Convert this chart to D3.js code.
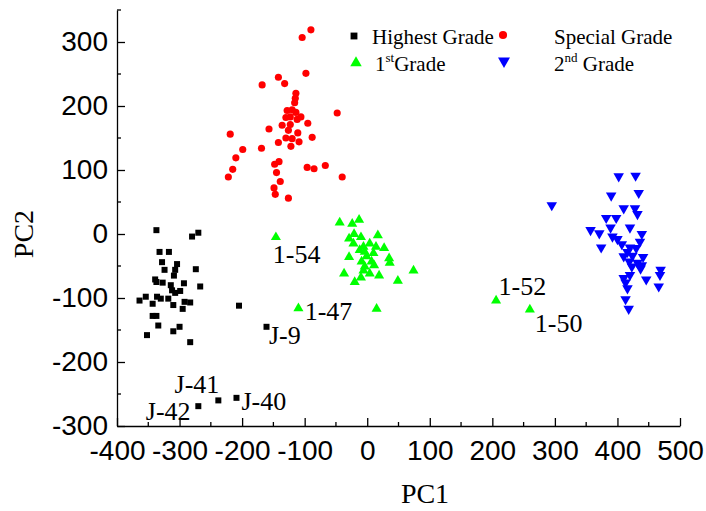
<!DOCTYPE html>
<html><head><meta charset="utf-8">
<script src="https://cdn.jsdelivr.net/npm/d3@7"></script>
<style>
body{margin:0;background:#fff;}
svg{display:block;}
</style></head>
<body>
<svg id="chart" width="706" height="511"></svg>
<script>
// ---- data (PC1, PC2) ----
const highestGrade = [
[-337,6],[-270,2],[-280,-4],[-332,-28],[-317,-28],[-328,-44],[-304,-47],[-324,-56],[-307,-56],[-274,-55],
[-309,-65],[-339,-71],[-337,-75],[-327,-76],[-293,-77],[-314,-80],[-267,-82],[-312,-88],[-299,-89],[-307,-92],
[-354,-98],[-336,-98],[-330,-101],[-318,-101],[-364,-104],[-343,-109],[-292,-106],[-283,-107],[-310,-111],[-295,-117],
[-205,-112],[-343,-128],[-337,-128],[-334,-143],[-300,-145],[-310,-152],[-352,-158],[-283,-169],
[-161,-145],[-209,-256],[-238,-260],[-270,-269]
];
const specialGrade = [
[-90,319],[-104,307],[-142,245],[-168,233],[-132,235],[-98,251],[-114,220],[-115,212],[-116,205],[-48,189],
[-128,193],[-120,194],[-114,190],[-130,182],[-123,183],[-106,183],[-112,179],[-95,173],[-136,170],[-123,171],
[-157,164],[-126,162],[-111,158],[-219,156],[-88,151],[-130,150],[-120,149],[-142,143],[-109,144],[-122,137],
[-199,132],[-169,134],[-210,119],[-141,113],[-148,109],[-96,104],[-85,102],[-67,107],[-215,101],[-145,96],
[-222,89],[-40,89],[-139,82],[-149,72],[-147,62],[-126,56]
];
const firstGrade = [
[-44,18],[-24,16],[-13,22],[-21,0],[-29,-7],[-10,-5],[17,-2],[-22,-15],[-6,-20],[4,-15],
[14,-20],[27,-22],[-12,-25],[-4,-28],[10,-30],[-29,-36],[-1,-35],[35,-38],[-9,-43],[7,-43],
[36,-45],[-4,-51],[11,-49],[-6,-57],[74,-57],[-37,-62],[4,-62],[19,-65],[-10,-68],[-20,-75],
[49,-73],[15,-117],
[-146,-5],[-110,-116],[206,-104],[260,-118]
];
const secondGrade = [
[402,90],[429,91],[390,60],[434,64],[295,45],[410,40],[428,40],[432,31],[382,25],[398,25],
[389,10],[420,10],[357,6],[371,1],[439,0],[392,-4],[400,-8],[436,-12],[407,-16],[374,-21],
[420,-21],[430,-22],[416,-28],[410,-35],[424,-34],[441,-36],[419,-43],[432,-45],[439,-49],[423,-51],
[437,-54],[469,-56],[468,-64],[420,-64],[410,-69],[446,-71],[413,-76],[416,-85],[466,-82],[413,-102],
[418,-117]
];
// sample labels: text and label anchor (PC1, PC2)
const labelTexts = ["1-54","1-47","J-9","1-52","1-50","J-41","J-42","J-40"];
const labelPC1 = [-151,-100,-157,210,268,-308,-354,-201];
const labelPC2 = [-46,-134,-172,-95,-153,-249,-290,-275];

const xTicks = [-400,-300,-200,-100,0,100,200,300,400,500];
const yTicks = [-300,-200,-100,0,100,200,300];
const xDomain = [-400,500];
const yDomain = [-300,350];

// ---- chart ----
const svg = d3.select("#chart");
const x = d3.scaleLinear().domain(xDomain).range([117,680]);
const y = d3.scaleLinear().domain(yDomain).range([426,10]);

const sans = "'Liberation Sans', Arial, sans-serif";
const serif = "'Liberation Serif', 'Times New Roman', serif";
const fmt = d => String(d);

// axes
const xAxis = d3.axisBottom(x).tickValues(xTicks).tickSizeInner(-8).tickSizeOuter(0).tickPadding(14).tickFormat(fmt);
const yAxis = d3.axisLeft(y).tickValues(yTicks).tickSizeInner(-8).tickSizeOuter(0).tickPadding(9).tickFormat(fmt);

const gx = svg.append("g").attr("transform","translate(0,426)").call(xAxis);
const gy = svg.append("g").attr("transform","translate(117,0)").call(yAxis);
[gx,gy].forEach(g=>{
  g.select(".domain").attr("stroke","#000").attr("stroke-width",1.3);
  g.selectAll(".tick line").attr("stroke","#000").attr("stroke-width",1.3);
  g.selectAll(".tick text").attr("font-family",sans).attr("font-size",28).attr("fill","#000");
});
gx.selectAll(".tick text").attr("dy","0.71em");

// minor ticks
const xMinor = d3.range(xDomain[0]+50, xDomain[1], 100);
const yMinor = d3.range(yDomain[0]+50, yDomain[1]+1, 100);
gx.selectAll(".minor").data(xMinor).join("line").attr("class","minor")
  .attr("x1",d=>x(d)).attr("x2",d=>x(d)).attr("y1",0).attr("y2",-4)
  .attr("stroke","#000").attr("stroke-width",1.3);
gy.selectAll(".minor").data(yMinor).join("line").attr("class","minor")
  .attr("y1",d=>y(d)).attr("y2",d=>y(d)).attr("x1",0).attr("x2",4)
  .attr("stroke","#000").attr("stroke-width",1.3);

// axis titles
svg.append("text").attr("x",425).attr("y",503)
  .attr("text-anchor","middle").attr("font-family",serif).attr("font-size",28).text("PC1");
svg.append("text").attr("transform",`translate(33,${y(0)}) rotate(-90)`)
  .attr("text-anchor","middle").attr("font-family",serif).attr("font-size",28).text("PC2");

// series
const series = [
  {name:"Highest Grade", data:highestGrade, color:"#000000", type:d3.symbolSquare, size:36, rot:0},
  {name:"Special Grade", data:specialGrade, color:"#ff0000", type:d3.symbolCircle, size:40, rot:0},
  {name:"1st Grade", data:firstGrade, color:"#00ff00", type:d3.symbolTriangle, size:44, rot:0},
  {name:"2nd Grade", data:secondGrade, color:"#0000ff", type:d3.symbolTriangle, size:48, rot:180}
];
series.forEach(s=>{
  svg.append("g").selectAll("path").data(s.data).join("path")
    .attr("d", d3.symbol().type(s.type).size(s.size))
    .attr("transform", d=>`translate(${x(d[0])},${y(d[1])}) rotate(${s.rot})`)
    .attr("fill", s.color);
});

// labels
svg.append("g").selectAll("text").data(labelTexts).join("text")
  .attr("x",(d,i)=>x(labelPC1[i])).attr("y",(d,i)=>y(labelPC2[i]))
  .attr("font-family",serif).attr("font-size",26).attr("fill","#000").text(d=>d);

// legend
const leg = svg.append("g");
const legItems = [
  {s:series[0], mx:354, my:36, tx:372, ty:44, main:"Highest Grade", sup:null},
  {s:series[1], mx:503, my:35, tx:554, ty:44, main:"Special Grade", sup:null},
  {s:series[2], mx:356, my:63, tx:375, ty:71, main:"1", sup:"st", rest:"Grade"},
  {s:series[3], mx:504, my:61, tx:554, ty:71, main:"2", sup:"nd", rest:" Grade"}
];
legItems.forEach(it=>{
  leg.append("path").attr("d", d3.symbol().type(it.s.type).size(it.s.size*1.3))
    .attr("transform",`translate(${it.mx},${it.my}) rotate(${it.s.rot})`).attr("fill",it.s.color);
  const t = leg.append("text").attr("x",it.tx).attr("y",it.ty).attr("font-family",serif).attr("font-size",21).attr("fill","#000");
  t.append("tspan").text(it.main);
  if(it.sup){
    t.append("tspan").attr("font-size",13).attr("dy",-9).text(it.sup);
    t.append("tspan").attr("dy",9).text(it.rest);
  }
});
</script>
</body></html>
